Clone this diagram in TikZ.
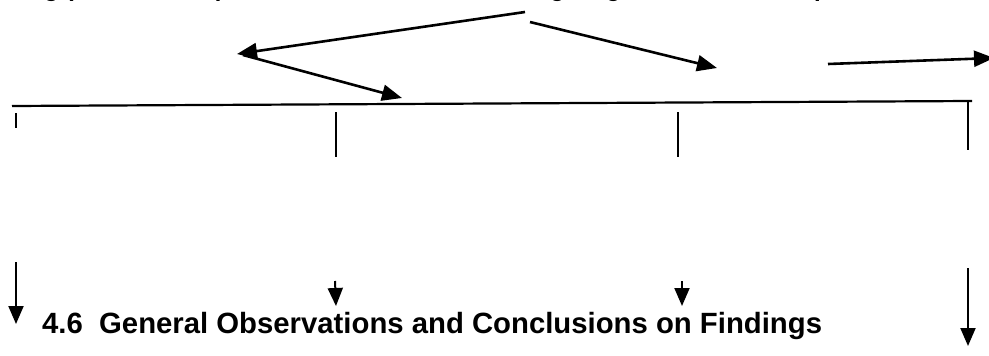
\documentclass[tikz,border=0pt]{standalone}
\usepackage{fontspec}
\setmainfont{Liberation Sans}
\usetikzlibrary{arrows.meta}
\begin{document}
\begin{tikzpicture}[x=1pt,y=-1pt,
  arr/.style={line width=2.6pt,-{Triangle[length=20pt,width=16pt]}},
  darr/.style={line width=2pt,-{Triangle[length=18pt,width=15pt]}},
  tick/.style={line width=1.4pt},
  bar/.style={line width=2.2pt},
  txt/.style={font=\bfseries\fontsize{29.3}{32}\selectfont,inner sep=0pt},
  toptxt/.style={font=\bfseries\fontsize{24}{28}\selectfont,inner sep=0pt,anchor=base west}]
\useasboundingbox (0,0) rectangle (989,356);
\clip (0,0) rectangle (989,356);
% clipped heading line (only descenders visible)
\node[toptxt] (t1) at (44,-4) {g (};
\node[toptxt] (t2) at (216,-4) {)};
\node[toptxt] (t3) at (550,-4) {g};
\node[toptxt] (t4) at (606,-4) {g};
\node[toptxt] (t5) at (814,-4) {p};
% coordinates
\coordinate (a1s) at (525,12);
\coordinate (a1e) at (237,54);
\coordinate (a2s) at (243,55);
\coordinate (a2e) at (402,98);
\coordinate (a3s) at (530,22);
\coordinate (a3e) at (717,68);
\coordinate (a4s) at (828,64);
\coordinate (a4e) at (994,58);
\coordinate (hl) at (12,106);
\coordinate (hr) at (972,101);
\coordinate (v1a) at (16,113); \coordinate (v1b) at (16,128);
\coordinate (v2a) at (336,112); \coordinate (v2b) at (336,157);
\coordinate (v3a) at (678,112); \coordinate (v3b) at (678,157);
\coordinate (v4a) at (968,101); \coordinate (v4b) at (968,150);
\coordinate (d1a) at (16,262); \coordinate (d1b) at (16,324);
\coordinate (d2a) at (335,281); \coordinate (d2b) at (336,306);
\coordinate (d3a) at (682,281); \coordinate (d3b) at (682,306);
\coordinate (d4a) at (968,268); \coordinate (d4b) at (968,346);
% arrows
\draw[arr] (a1s) -- (a1e);
\draw[arr] (a2s) -- (a2e);
\draw[arr] (a3s) -- (a3e);
\draw[arr] (a4s) -- (a4e);
% bar and ticks
\draw[bar] (hl) -- (hr);
\draw[tick] (v1a) -- (v1b);
\draw[tick] (v2a) -- (v2b);
\draw[tick] (v3a) -- (v3b);
\draw[tick] (v4a) -- (v4b);
% down arrows
\draw[darr] (d1a) -- (d1b);
\draw[darr] (d2a) -- (d2b);
\draw[darr] (d3a) -- (d3b);
\draw[darr] (d4a) -- (d4b);
% caption
\node[txt,anchor=base west] (cap) at (42,333) {4.6\ \ General Observations and Conclusions on Findings};
\end{tikzpicture}
\end{document}
